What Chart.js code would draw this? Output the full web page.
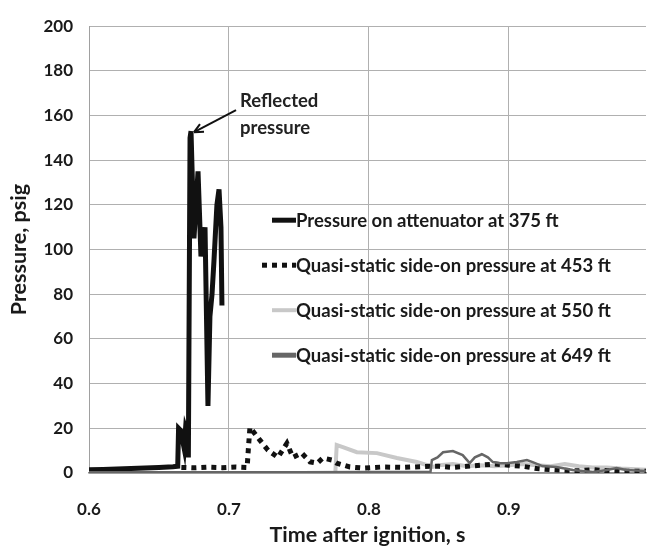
<!DOCTYPE html>
<html lang="en">
<head>
    <meta charset="UTF-8">
    <title>Pressure vs time after ignition</title>
    <script src="https://cdn.jsdelivr.net/npm/chart.js"></script>
    <style>
        html, body {
            margin: 0;
            padding: 0;
            background: #fff;
        }
        #wrap {
            width: 647px;
            height: 548px;
        }
    </style>
</head>
<body>
    <div id="wrap"><canvas id="pressureChart"></canvas></div>
    <script>
        // values
        const t375 = [0.600, 0.610, 0.620, 0.630, 0.640, 0.650, 0.660, 0.6634, 0.6640, 0.6655, 0.6680, 0.6690, 0.6700, 0.6710,
            0.6722, 0.6729, 0.6750, 0.6779, 0.6800, 0.6829, 0.6850, 0.6864, 0.6879, 0.6893, 0.6914, 0.6929, 0.6943, 0.6950];
        const p375 = [1.5, 1.6, 1.8, 2.0, 2.2, 2.5, 2.8, 3.0, 20, 19, 11, 20, 18, 7,
            150, 153, 105, 135, 97, 110, 30, 70, 80, 95, 120, 127, 110, 75];

        const t453 = [0.666, 0.675, 0.685, 0.695, 0.705, 0.7130, 0.7140, 0.7150, 0.7221, 0.7279, 0.7350, 0.7414, 0.7457, 0.7520,
            0.7579, 0.7630, 0.7671, 0.7736, 0.7770, 0.7864, 0.7957, 0.8100, 0.8243, 0.8436, 0.850, 0.860, 0.870, 0.880,
            0.890, 0.900, 0.910, 0.920, 0.930, 0.940, 0.950, 0.960, 0.970, 0.980, 0.998];
        const p453 = [2.5, 2.3, 2.6, 2.4, 2.7, 2.5, 12, 20.4, 14.7, 10.2, 7, 13.3, 7, 8.9,
            5, 4.4, 6.7, 5.8, 4.4, 2.7, 2.2, 2.7, 2.5, 3, 3, 2.5, 3, 3.5,
            4, 3.5, 3, 2, 1.5, 1.2, 1, 1.5, 1, 0.8, 0.8];

        const t550 = [0.7760, 0.7770, 0.7814, 0.7914, 0.8057, 0.8200, 0.8343, 0.8457, 0.850, 0.860, 0.870, 0.880,
            0.890, 0.900, 0.910, 0.920, 0.930, 0.940, 0.950, 0.960, 0.970, 0.980, 0.998];
        const p550 = [0, 12.5, 11.6, 9.3, 8.9, 6.7, 4.9, 2.7, 3.5, 4, 3, 3.5,
            3, 3.5, 4, 3.5, 3, 4, 3, 2.5, 2.5, 2, 1.5];

        const t649 = [0.600, 0.660, 0.700, 0.750, 0.800, 0.8440, 0.8450, 0.8490, 0.8530, 0.8600, 0.8670, 0.8720, 0.8757,
            0.8807, 0.8850, 0.8886, 0.8936, 0.8986, 0.9057, 0.9129, 0.9170, 0.9240, 0.9340, 0.9457, 0.9600,
            0.9700, 0.9770, 0.9840, 0.998];
        const p649 = [0.3, 0.3, 0.3, 0.3, 0.5, 0.5, 5.8, 7, 9.3, 9.8, 8, 4.4, 7,
            8.4, 7, 4.9, 4.4, 4.4, 4.9, 5.8, 4.9, 3.1, 2.7, 1.3, 0.4,
            1.3, 2.2, 1.3, 0.9];

        const seriesNames = [
            'Pressure on attenuator at 375 ft',
            'Quasi-static side-on pressure at 453 ft',
            'Quasi-static side-on pressure at 550 ft',
            'Quasi-static side-on pressure at 649 ft'
        ];

        const xTicks = [0.6, 0.7, 0.8, 0.9];
        const yMin = 0, yMax = 200, yStep = 20;

        const peakTime = 0.6729, peakValue = 153;
        const noteLines = ['Reflected', 'pressure'];

        const FONT = 'Lato, "Open Sans", sans-serif';

        function toPoints(ts, ps) {
            return ts.map((t, i) => ({ x: t, y: ps[i] }));
        }

        // legend drawn inside the plot, Excel style
        const insideLegend = {
            id: 'insideLegend',
            afterDraw(chart) {
                const ctx = chart.ctx;
                const area = chart.chartArea;
                const x0 = area.left + 183;
                const textX = area.left + 207;
                ctx.save();
                ctx.font = 'bold 18.5px ' + FONT;
                ctx.fillStyle = '#1a1a1a';
                ctx.textBaseline = 'middle';
                chart.data.datasets.forEach((ds, i) => {
                    const y = area.top + 194 + i * 45;
                    ctx.beginPath();
                    ctx.strokeStyle = ds.borderColor;
                    ctx.lineWidth = ds.legendWidth || ds.borderWidth;
                    ctx.setLineDash(ds.borderDash || []);
                    ctx.moveTo(i === 1 ? x0 - 10 : x0, y);
                    ctx.lineTo(textX, y);
                    ctx.stroke();
                    ctx.setLineDash([]);
                    ctx.fillText(ds.label, textX, y + 1);
                });
                ctx.restore();
            }
        };

        // "Reflected pressure" note with arrow to the peak
        const peakNote = {
            id: 'peakNote',
            afterDraw(chart) {
                const ctx = chart.ctx;
                const xs = chart.scales.x, ys = chart.scales.y;
                const hx = xs.getPixelForValue(peakTime) + 3;
                const hy = ys.getPixelForValue(peakValue) + 1;
                const tx = hx + 42, ty = hy - 22;
                ctx.save();
                ctx.strokeStyle = '#111';
                ctx.lineWidth = 2;
                ctx.beginPath();
                ctx.moveTo(tx, ty);
                ctx.lineTo(hx, hy);
                ctx.stroke();
                const a = Math.atan2(hy - ty, hx - tx);
                ctx.beginPath();
                ctx.moveTo(hx, hy);
                ctx.lineTo(hx - 10 * Math.cos(a - 0.45), hy - 10 * Math.sin(a - 0.45));
                ctx.moveTo(hx, hy);
                ctx.lineTo(hx - 10 * Math.cos(a + 0.45), hy - 10 * Math.sin(a + 0.45));
                ctx.stroke();
                ctx.font = 'bold 18.5px ' + FONT;
                ctx.textBaseline = 'middle';
                ctx.fillStyle = '#222';
                ctx.fillText(noteLines[0], tx + 4, ty - 9);
                ctx.fillText(noteLines[1], tx + 4, ty + 18);
                ctx.restore();
            }
        };

        const ctx = document.getElementById('pressureChart').getContext('2d');
        new Chart(ctx, {
            type: 'line',
            data: {
                datasets: [
                    {
                        label: seriesNames[0],
                        data: toPoints(t375, p375),
                        borderColor: '#111111',
                        borderWidth: 5,
                        order: 1
                    },
                    {
                        label: seriesNames[1],
                        data: toPoints(t453, p453),
                        borderColor: '#111111',
                        borderWidth: 5,
                        borderDash: [5, 5],
                        order: 2
                    },
                    {
                        label: seriesNames[2],
                        data: toPoints(t550, p550),
                        borderColor: '#c8c8c8',
                        borderWidth: 4,
                        order: 3
                    },
                    {
                        label: seriesNames[3],
                        data: toPoints(t649, p649),
                        borderColor: '#666666',
                        borderWidth: 2.5,
                        legendWidth: 5,
                        order: 0
                    }
                ]
            },
            options: {
                responsive: true,
                maintainAspectRatio: false,
                animation: false,
                layout: { padding: { top: 23, right: 1, left: 0, bottom: 0 } },
                elements: {
                    point: { radius: 0 },
                    line: { tension: 0, borderCapStyle: 'butt', borderJoinStyle: 'miter' }
                },
                plugins: {
                    legend: { display: false },
                    tooltip: { enabled: false }
                },
                scales: {
                    x: {
                        type: 'linear',
                        min: xTicks[0],
                        max: 0.998,
                        afterFit: s => { s.height = 75; },
                        afterBuildTicks: s => { s.ticks = xTicks.map(v => ({ value: v })); },
                        ticks: {
                            includeBounds: false,
                            padding: 26,
                            color: '#1a1a1a',
                            font: { family: FONT, size: 17, weight: 'bold' },
                            callback: v => Number(v).toFixed(1)
                        },
                        grid: { color: '#b0b0b0', drawTicks: false },
                        border: { color: '#8c8c8c', width: 1.5 },
                        title: {
                            display: true,
                            text: 'Time after ignition, s',
                            color: '#1a1a1a',
                            font: { family: FONT, size: 21.5, weight: 'bold' },
                            padding: { top: 0, bottom: 0 }
                        }
                    },
                    y: {
                        min: yMin,
                        max: yMax,
                        afterFit: s => { s.width = 89; },
                        ticks: {
                            stepSize: yStep,
                            padding: 16,
                            color: '#1a1a1a',
                            font: { family: FONT, size: 17, weight: 'bold' }
                        },
                        grid: { color: '#b0b0b0', drawTicks: false },
                        border: { color: '#a0a0a0' },
                        title: {
                            display: true,
                            text: 'Pressure, psig',
                            color: '#1a1a1a',
                            font: { family: FONT, size: 21.5, weight: 'bold' },
                            padding: { top: 6, bottom: 0 }
                        }
                    }
                }
            },
            plugins: [insideLegend, peakNote]
        });
    </script>
</body>
</html>
